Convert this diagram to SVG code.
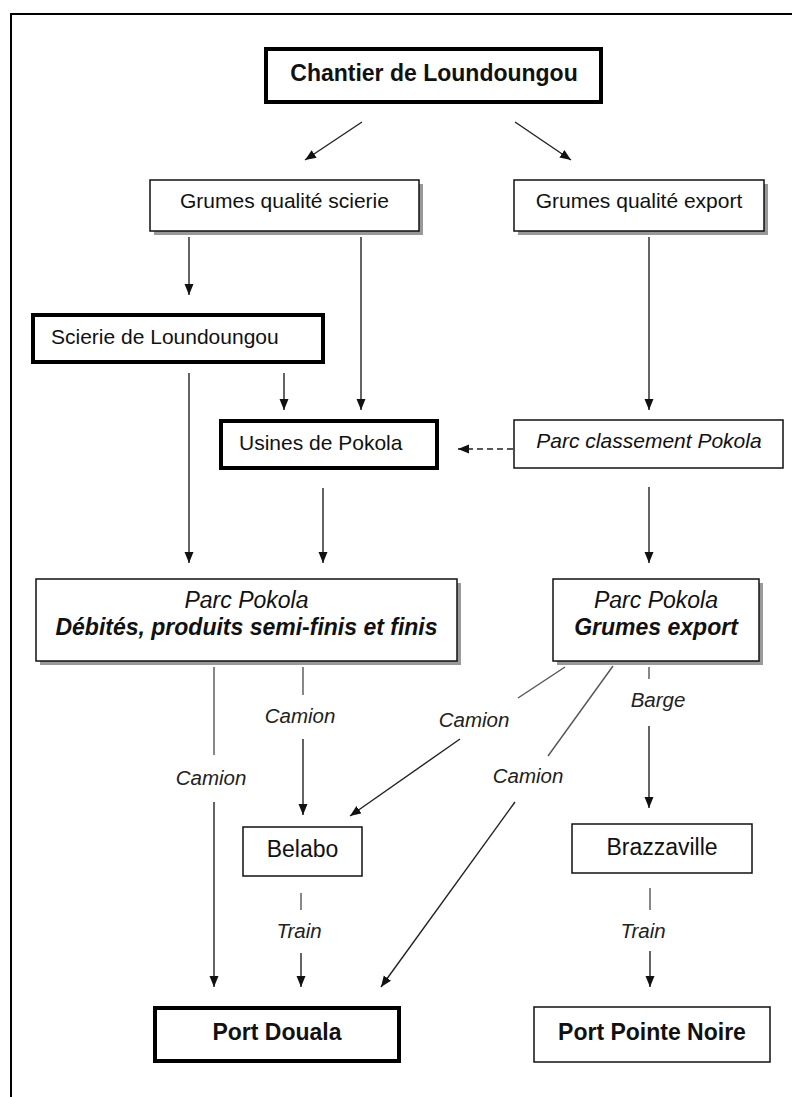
<svg xmlns="http://www.w3.org/2000/svg" width="792" height="1097" viewBox="0 0 792 1097">
<style>
.box{fill:#fff;stroke:#111;stroke-width:1.5}
.thick{fill:#fff;stroke:#000;stroke-width:4}
.shadow{fill:#999;stroke:none}
text{font-family:"Liberation Sans",Arial,sans-serif;fill:#111}
.t{font-size:21px}
.tb{font-size:23px;font-weight:bold}
.ti{font-size:23px;font-style:italic}
.tbi{font-size:23px;font-weight:bold;font-style:italic}
.lbl{font-size:20.5px;font-style:italic;fill:#222}
.c{text-anchor:middle}
.cn line{stroke:#222;stroke-width:1.4;fill:none}
.cn .a{marker-end:url(#ah)}
.cn .g{stroke:#555}
</style>
<defs>
<marker id="ah" markerUnits="userSpaceOnUse" markerWidth="12" markerHeight="10" refX="11" refY="4.5" orient="auto">
<path d="M0,0 L11,4.5 L0,9 Z" fill="#111"/>
</marker>
</defs>
<rect x="11" y="14" width="800" height="1100" fill="none" stroke="#000" stroke-width="2"/>

<g id="chantier">
<rect class="thick" x="266" y="49" width="335" height="53"/>
<text class="tb c" x="434" y="81">Chantier de Loundoungou</text>
</g>
<g id="grumes-scierie">
<rect class="shadow" x="154" y="184" width="269" height="51"/>
<rect class="box" x="150" y="180" width="269" height="51"/>
<text class="t c" x="284.5" y="208">Grumes qualité scierie</text>
</g>
<g id="grumes-export">
<rect class="shadow" x="518" y="184" width="250" height="51"/>
<rect class="box" x="514" y="180" width="250" height="51"/>
<text class="t c" x="639" y="208">Grumes qualité export</text>
</g>
<g id="scierie">
<rect class="thick" x="33" y="315" width="290" height="47"/>
<text class="t" x="51" y="344">Scierie de Loundoungou</text>
</g>
<g id="usines">
<rect class="thick" x="221" y="421" width="216" height="47"/>
<text class="t" x="239" y="450">Usines de Pokola</text>
</g>
<g id="parc-classement">
<rect class="box" x="514" y="420" width="269" height="48"/>
<text class="t c" x="649" y="448" font-style="italic">Parc classement Pokola</text>
</g>
<g id="parc-debites">
<rect class="shadow" x="40" y="583" width="421" height="82"/>
<rect class="box" x="36" y="579" width="421" height="82"/>
<text class="ti c" x="246.5" y="608">Parc Pokola</text>
<text class="tbi c" x="246.5" y="635">Débités, produits semi-finis et finis</text>
</g>
<g id="parc-grumes">
<rect class="shadow" x="557" y="583" width="206" height="82"/>
<rect class="box" x="553" y="579" width="206" height="82"/>
<text class="ti c" x="656" y="608">Parc Pokola</text>
<text class="tbi c" x="656" y="635">Grumes export</text>
</g>
<g id="belabo">
<rect class="box" x="243" y="827" width="119" height="49"/>
<text class="c" x="302.5" y="857" font-size="23">Belabo</text>
</g>
<g id="brazzaville">
<rect class="box" x="572" y="824" width="180" height="49"/>
<text class="c" x="662" y="855" font-size="23">Brazzaville</text>
</g>
<g id="port-douala">
<rect class="thick" x="155" y="1008" width="244" height="53"/>
<text class="tb c" x="277" y="1040">Port Douala</text>
</g>
<g id="port-pointe-noire">
<rect class="box" x="534" y="1007" width="236" height="55"/>
<text class="tb c" x="652" y="1040">Port Pointe Noire</text>
</g>

<g id="connectors" class="cn">
<line class="a" x1="362" y1="122" x2="305" y2="160"/>
<line class="a" x1="515" y1="122" x2="571" y2="160"/>
<line class="a" x1="189" y1="237" x2="189" y2="295"/>
<line class="a" x1="361" y1="237" x2="361" y2="410"/>
<line class="a" x1="649" y1="237" x2="649" y2="410"/>
<line class="a" x1="284" y1="373" x2="284" y2="410"/>
<line class="a" x1="189" y1="373" x2="189" y2="563"/>
<line class="a" x1="513" y1="449" x2="458" y2="449" stroke-dasharray="6,4"/>
<line class="a" x1="323" y1="488" x2="323" y2="563"/>
<line class="a" x1="649" y1="487" x2="649" y2="563"/>
<line class="g" x1="214" y1="667" x2="214" y2="755"/>
<line class="a" x1="214" y1="802" x2="214" y2="987"/>
<line class="g" x1="303" y1="667" x2="303" y2="695"/>
<line class="a" x1="303" y1="739" x2="303" y2="815"/>
<line class="g" x1="565" y1="667" x2="518" y2="698"/>
<line class="a" x1="460" y1="739" x2="350" y2="816"/>
<line class="g" x1="613" y1="666" x2="548" y2="756"/>
<line class="a" x1="515" y1="802" x2="381" y2="987"/>
<line class="g" x1="649" y1="667" x2="649" y2="679"/>
<line class="a" x1="649" y1="726" x2="649" y2="808"/>
<line class="g" x1="301" y1="893" x2="301" y2="910"/>
<line class="a" x1="301" y1="953" x2="301" y2="987"/>
<line class="g" x1="650" y1="888" x2="650" y2="910"/>
<line class="a" x1="650" y1="951" x2="650" y2="987"/>
</g>
<g id="labels">
<text class="lbl c" x="300" y="723">Camion</text>
<text class="lbl c" x="211" y="785">Camion</text>
<text class="lbl c" x="474" y="727">Camion</text>
<text class="lbl c" x="528" y="783">Camion</text>
<text class="lbl c" x="658" y="707">Barge</text>
<text class="lbl c" x="299" y="938">Train</text>
<text class="lbl c" x="643" y="938">Train</text>
</g>
</svg>
